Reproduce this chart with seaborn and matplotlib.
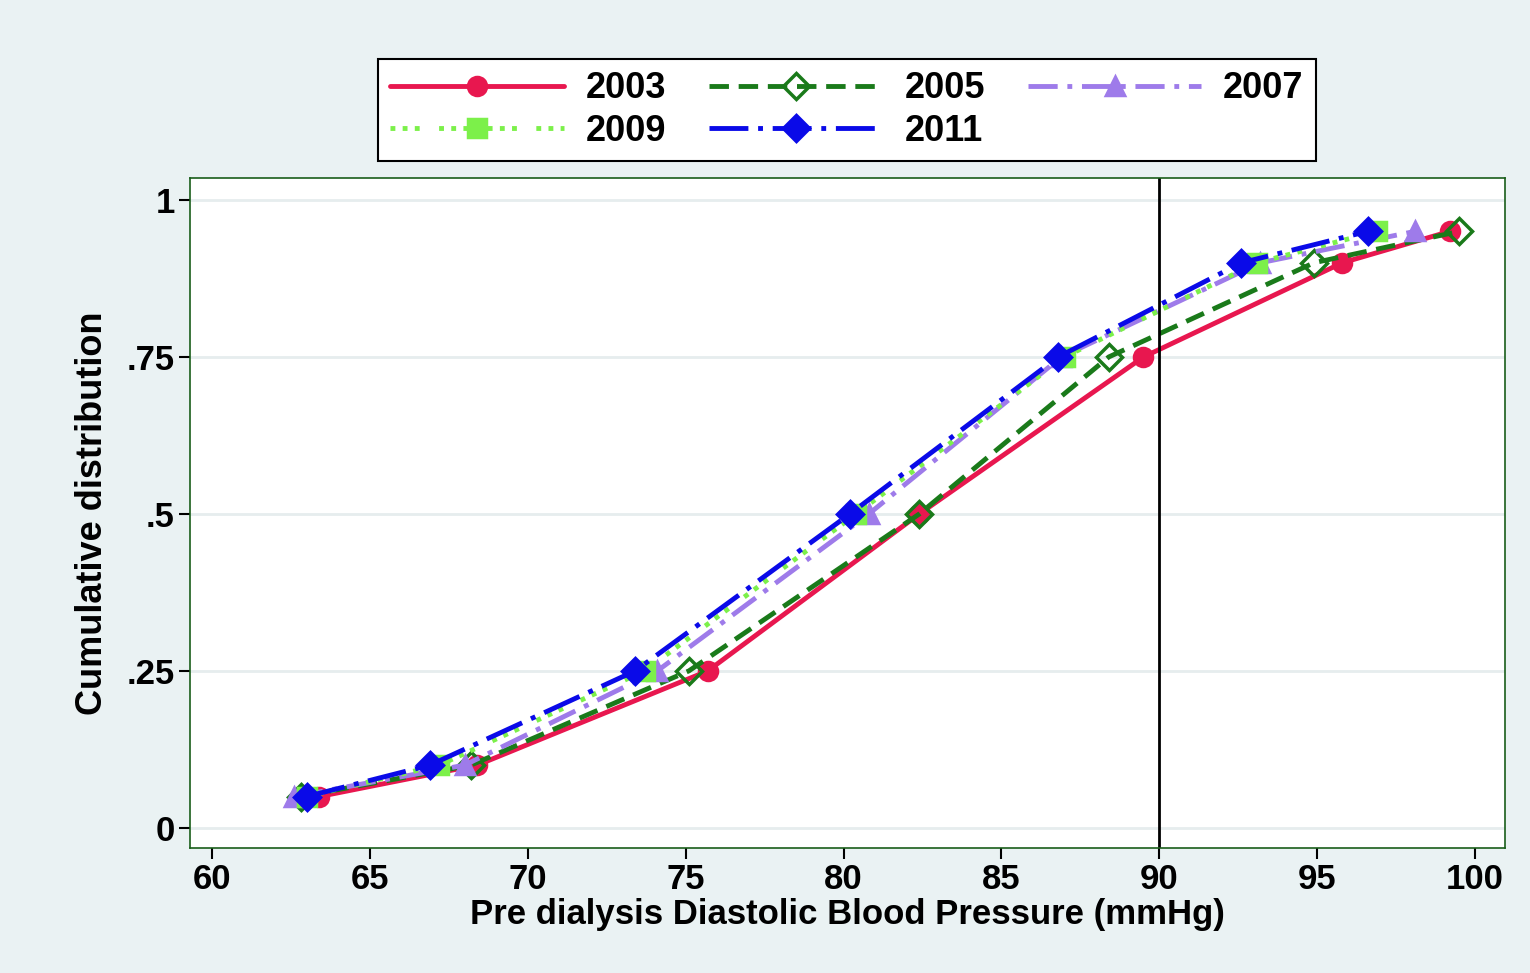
import matplotlib
matplotlib.use("Agg")
import matplotlib.pyplot as plt
import seaborn as sns
import pandas as pd

sns.set_theme(style="white")
plt.rcParams['font.family'] = ['Liberation Sans', 'DejaVu Sans']
plt.rcParams['font.weight'] = 'bold'
plt.rcParams['text.color'] = 'black'
plt.rcParams['axes.labelcolor'] = 'black'
plt.rcParams['xtick.color'] = 'black'
plt.rcParams['ytick.color'] = 'black'

cum = [0.05, 0.10, 0.25, 0.50, 0.75, 0.90, 0.95]
bp2003 = [63.4, 68.4, 75.7, 82.4, 89.5, 95.8, 99.2]
bp2005 = [62.8, 68.2, 75.1, 82.4, 88.4, 94.9, 99.5]
bp2007 = [62.6, 68.0, 74.1, 80.8, 86.9, 93.2, 98.1]
bp2009 = [63.0, 67.2, 73.7, 80.4, 87.0, 93.1, 96.9]
bp2011 = [63.0, 66.9, 73.4, 80.2, 86.8, 92.6, 96.6]
years = ["2003", "2005", "2007", "2009", "2011"]
series = [bp2003, bp2005, bp2007, bp2009, bp2011]

styles = [
    dict(color="#E8174F", marker="o", ls="-", mfc="#E8174F"),
    dict(color="#1A7A1A", marker="D", ls=(0, (4, 2)), mfc="none"),
    dict(color="#9E7BEA", marker="^", ls=(0, (6, 2, 1, 2)), mfc="#9E7BEA"),
    dict(color="#7CF04A", marker="s", ls=(0, (1, 1.5, 1, 1.5, 1, 4)), mfc="#7CF04A"),
    dict(color="#0A0AE8", marker="D", ls=(0, (8, 2, 1, 2)), mfc="#0A0AE8"),
]

fig = plt.figure(figsize=(15.3, 9.73), dpi=100)
fig.patch.set_facecolor("#EAF2F3")
ax = fig.add_axes([190/1530, 1-848/973, (1505-190)/1530, (848-178)/973])
ax.set_facecolor("white")

for y, s, st in zip(years, series, styles):
    df = pd.DataFrame({"x": s, "y": cum})
    sns.lineplot(data=df, x="x", y="y", ax=ax, color=st["color"], marker=st["marker"],
                 markersize=13, markerfacecolor=st["mfc"], markeredgecolor=st["color"],
                 markeredgewidth=2.5, linewidth=3.5, linestyle=st["ls"], label=y,
                 sort=False, estimator=None)

ax.axvline(90, color="black", lw=2)
ax.set_xlim(59.3, 100.95)
ax.set_ylim(-0.032, 1.035)
ax.set_xticks(range(60, 101, 5))
ax.set_yticks([0, 0.25, 0.5, 0.75, 1])
ax.set_yticklabels(["0", ".25", ".5", ".75", "1"])
ax.yaxis.grid(True, color="#E6EDEE", lw=2)
for sp in ax.spines.values():
    sp.set_color("#1A5E1A"); sp.set_linewidth(1.2)
ax.tick_params(axis="both", labelsize=25, length=8, width=1.5, color="black", direction="out",
               left=True, bottom=True, pad=3)
for lbl in ax.get_xticklabels() + ax.get_yticklabels():
    lbl.set_fontweight("bold")
ax.set_xlabel("Pre dialysis Diastolic Blood Pressure (mmHg)", fontsize=25, fontweight="bold", labelpad=1)
ax.set_ylabel("Cumulative distribution", fontsize=26, fontweight="bold", labelpad=12)

handles, labels = ax.get_legend_handles_labels()
order = [0, 3, 1, 4, 2]
leg = fig.legend([handles[i] for i in order], [labels[i] for i in order], ncol=3,
                 loc="center", bbox_to_anchor=(847/1530, 1-110/973),
                 frameon=True, fancybox=False, edgecolor="black", handlelength=4.8,
                 handletextpad=0.6, columnspacing=1.2, borderpad=0.35, labelspacing=0.2,
                 prop={"weight": "bold", "size": 26})
leg.get_frame().set_linewidth(1.5)
leg.get_frame().set_facecolor("white")
leg.get_frame().set_alpha(1)
if ax.get_legend():
    ax.get_legend().remove()
fig.savefig("out.png", dpi=100, facecolor=fig.get_facecolor())
